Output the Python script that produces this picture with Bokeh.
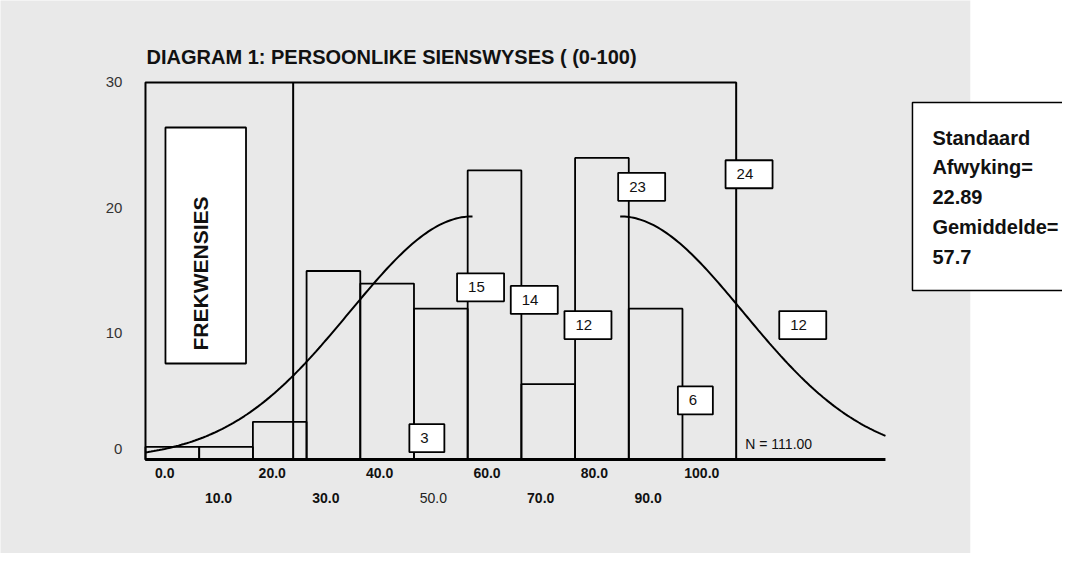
import numpy as np
from bokeh.plotting import figure
from bokeh.models import Range1d, ColumnDataSource
from bokeh.core.properties import value
from bokeh.embed import file_html
from bokeh.resources import INLINE

# ---------------- data ----------------
title = "DIAGRAM 1: PERSOONLIKE SIENSWYSES ( (0-100)"
bin_centers = [0, 10, 20, 30, 40, 50, 60, 70, 80, 90]
counts = [1, 1, 3, 15, 14, 12, 23, 6, 24, 12]
bin_width = 10
tick_values = [0, 10, 20, 30, 40, 50, 60, 70, 80, 90, 100]
tick_labels = ["0.0", "10.0", "20.0", "30.0", "40.0", "50.0",
               "60.0", "70.0", "80.0", "90.0", "100.0"]
y_ticks = [0, 10, 20, 30]
y_tick_labels = ["0", "10", "20", "30"]
n_total = 111
std_dev = 22.89
mean_val = 57.7
stats_lines = ["Standaard", "Afwyking=", "22.89", "Gemiddelde=", "57.7"]
y_title = "FREKWENSIES"
n_label = "N = 111.00"

# ---------------- layout ----------------
X0, X1 = -32.0, 165.77
Y0, Y1 = -7.48, 36.524
SANS = "Liberation Sans"

p = figure(width=1062, height=553, x_range=Range1d(X0, X1), y_range=Range1d(Y0, Y1),
           output_backend="svg", toolbar_location=None, min_border=0)
p.axis.visible = False
p.grid.visible = False
p.outline_line_color = None
p.background_fill_color = "white"
p.border_fill_color = "white"

# textured grey paper area
p.quad(left=[X0 - 5], right=[148.6], bottom=[Y0 - 5], top=[Y1 + 5],
       fill_color="#e9e9e9", line_color=None)

# SPSS frame with divider
p.quad(left=[-5], right=[105], bottom=[0], top=[30], fill_color=None,
       line_color="black", line_width=2)
p.segment(x0=[22.5], y0=[0], x1=[22.5], y1=[30], line_color="black", line_width=2)

# histogram bars
bars = ColumnDataSource(dict(
    left=[c - bin_width / 2 for c in bin_centers],
    right=[c + bin_width / 2 for c in bin_centers],
    top=counts))
p.quad(left="left", right="right", bottom=0, top="top", source=bars,
       fill_color=None, line_color="black", line_width=1.8)

# baseline
p.segment(x0=[-5], y0=[0], x1=[132.8], y1=[0], line_color="black", line_width=3)

# fitted normal curve (drawn in two displaced halves as in the original)
def normal_freq(x, peak):
    return n_total * bin_width / (std_dev * np.sqrt(2 * np.pi)) * np.exp(-0.5 * ((x - peak) / std_dev) ** 2)

left_peak, right_peak = 55.9, 83.4
xl = np.linspace(-5, left_peak, 120)
xr = np.linspace(right_peak, 132.8, 120)
p.line(xl, normal_freq(xl, left_peak), line_color="black", line_width=2)
p.line(xr, normal_freq(xr, right_peak), line_color="black", line_width=2)

# frequency label boxes (displaced to the right)
lab_counts = counts[2:]
lab_x = [c + 27.4 for c in bin_centers[2:]]
lab_y = [c - 1.3 for c in lab_counts]
lab_w = [35 if c < 10 else 47 for c in lab_counts]
labs = ColumnDataSource(dict(x=lab_x, y=lab_y, w=lab_w,
                             t=[str(c) for c in lab_counts],
                             off=[-w / 2 + 11 for w in lab_w]))
p.rect(x="x", y="y", width="w", height=28, width_units="screen", height_units="screen",
       source=labs, fill_color="white", line_color="black", line_width=1.8)
p.text(x="x", y="y", text="t", x_offset="off", source=labs, text_font=value(SANS),
       text_font_size="15px", text_baseline="middle", text_align="left", text_color="#111111")

# x tick labels (two staggered rows)
row1 = [i for i in range(len(tick_values)) if i % 2 == 0]
row2 = [i for i in range(len(tick_values)) if i % 2 == 1 and tick_values[i] != 50]
p.text(x=[tick_values[i] - 1.4 for i in row1], y=[-1.11] * len(row1),
       text=[tick_labels[i] for i in row1], text_font=value(SANS), text_font_style="bold",
       text_font_size="14px", text_align="center", text_baseline="middle", text_color="#111111")
p.text(x=[tick_values[i] - 1.4 for i in row2], y=[-3.10] * len(row2),
       text=[tick_labels[i] for i in row2], text_font=value(SANS), text_font_style="bold",
       text_font_size="14px", text_align="center", text_baseline="middle", text_color="#111111")
p.text(x=[50 - 1.4], y=[-3.10], text=[tick_labels[5]], text_font=value(SANS),
       text_font_size="14px", text_align="center", text_baseline="middle", text_color="#222222")

# y tick labels
p.text(x=[-9.3] * 4, y=[0.8, 10.1, 20.0, 30.0], text=y_tick_labels, text_font=value(SANS),
       text_font_size="15px", text_align="right", text_baseline="middle", text_color="#333333")

# title
p.text(x=[-4.8], y=[31.99], text=[title], text_font=value(SANS), text_font_style="bold",
       text_font_size="20px", text_align="left", text_baseline="alphabetic", text_color="#111111")

# y axis title box
p.quad(left=[-1.28], right=[13.72], bottom=[7.64], top=[26.42], fill_color="white",
       line_color="black", line_width=1.8)
p.text(x=[5.24], y=[14.8], text=[y_title], angle=np.pi / 2, text_font=value(SANS),
       text_font_style="bold", text_font_size="21px", text_align="center",
       text_baseline="middle", text_color="#111111")

# N label
p.text(x=[106.7], y=[1.27], text=[n_label], text_font=value(SANS), text_font_size="14px",
       text_align="left", text_baseline="middle", text_color="#111111")

# statistics box
p.quad(left=[137.83], right=[167.0], bottom=[13.45], top=[28.41], fill_color="white",
       line_color="black", line_width=1.5)
p.text(x=[141.54] * 5, y=[25.62 - 2.37 * i for i in range(5)], text=stats_lines,
       text_font=value(SANS), text_font_style="bold", text_font_size="20px",
       text_align="left", text_baseline="alphabetic", text_color="#111111")

open("out.html", "w").write(file_html(p, INLINE))
